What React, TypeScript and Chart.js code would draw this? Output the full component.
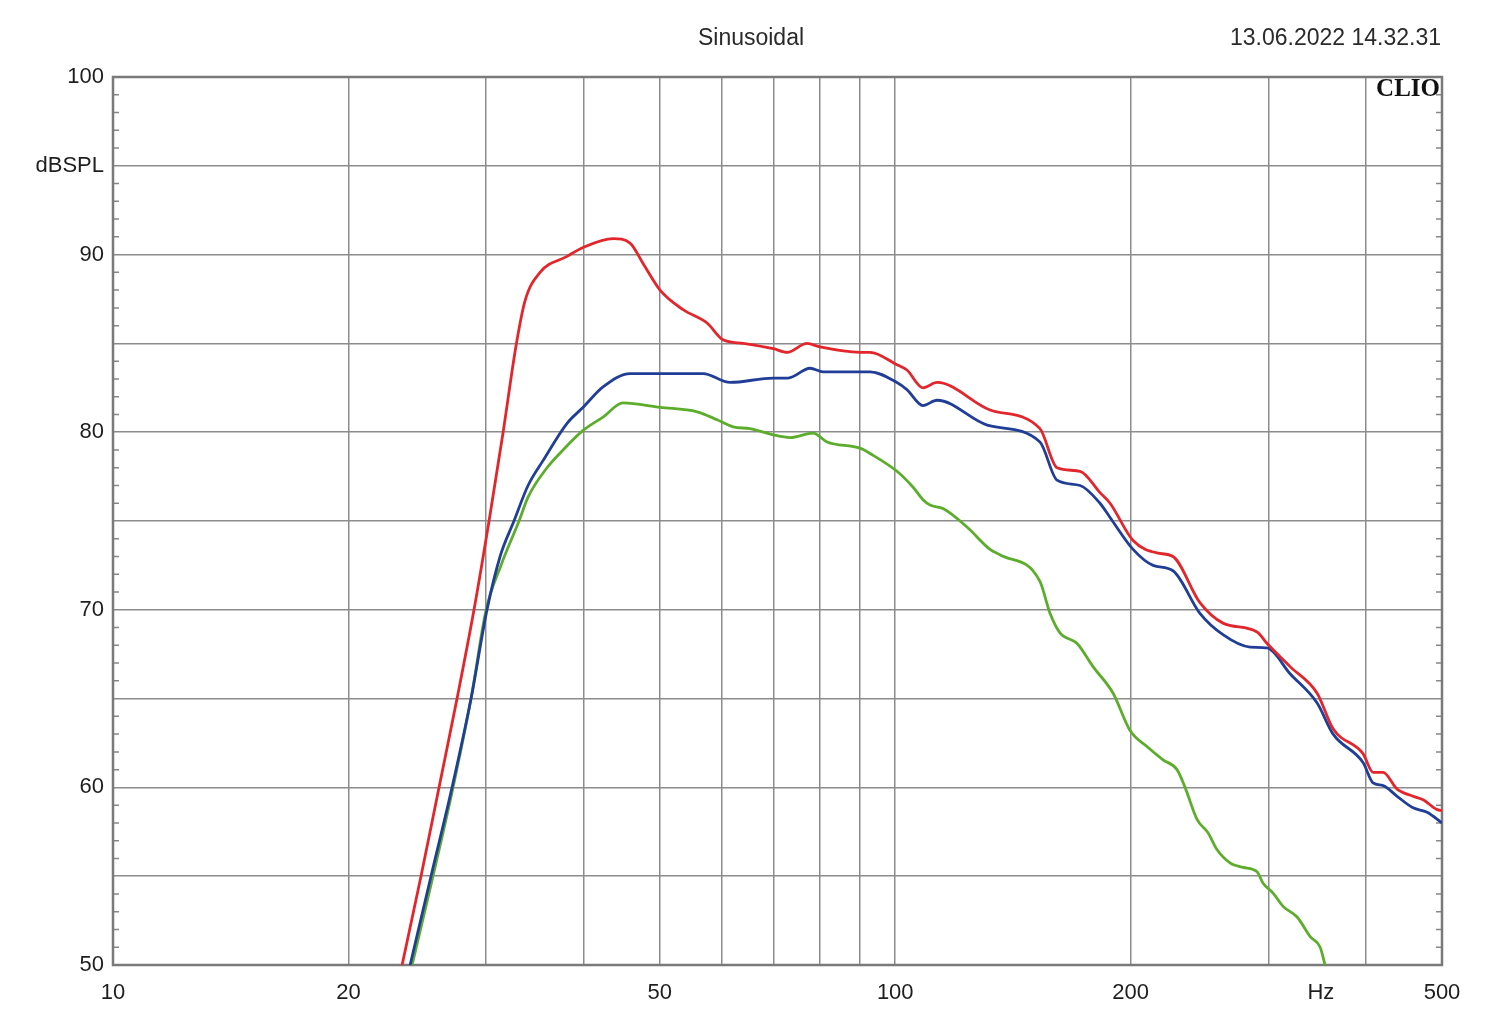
import React, { useEffect, useRef } from "react";
import { Chart, registerables } from "chart.js";

Chart.register(...registerables);

// Frequency (Hz) / level (dB SPL) pairs
const redFreq = [23.42, 24.76, 26.11, 27.53, 28.94, 30.25, 31.53, 32.76, 33.63, 35.15, 38.06, 39.9, 43.58, 45.81, 47.6, 50.04, 53.55, 57.47, 60.25, 63.89, 69.83, 72.77, 77.13, 80.15, 90.16, 92.86, 100.5, 103.5, 108.5, 113.1, 132.2, 153.1, 161.0, 172.3, 182.7, 188.2, 201.4, 216.1, 226.5, 245.2, 262.4, 290.1, 298.8, 319.7, 346.2, 362.9, 396.3, 408.2, 420.4, 438.1, 459.2, 473.0, 492.9, 500];
const redDb = [50, 55, 60, 65, 70, 75, 80, 84.9, 87.4, 89.0, 89.9, 90.4, 90.9, 90.65, 89.5, 88.0, 86.9, 86.15, 85.2, 85.0, 84.7, 84.5, 85.0, 84.8, 84.5, 84.5, 83.8, 83.5, 82.5, 82.8, 81.25, 80.2, 78.0, 77.8, 76.6, 76.0, 73.9, 73.2, 73.0, 70.4, 69.25, 68.75, 68.1, 66.8, 65.3, 63.3, 61.9, 60.85, 60.85, 59.9, 59.5, 59.3, 58.75, 58.7];

const blueFreq = [23.98, 25.5, 27.13, 28.69, 30.07, 31.25, 32.55, 33.93, 35.46, 38.06, 39.9, 42.31, 45.81, 50.04, 56.8, 61.5, 69.83, 72.95, 77.82, 80.86, 92.86, 100.5, 103.5, 108.5, 113.1, 131.1, 153.1, 161.0, 172.3, 182.7, 188.2, 201.4, 213.6, 226.5, 245.2, 262.4, 284.2, 298.8, 319.7, 346.2, 362.9, 396.3, 408.2, 420.4, 438.1, 459.2, 478.6, 500];
const blueDb = [50, 55, 60, 65, 70, 73, 75, 77, 78.4, 80.5, 81.4, 82.55, 83.3, 83.3, 83.3, 82.8, 83.05, 83.05, 83.6, 83.4, 83.4, 82.8, 82.4, 81.5, 81.8, 80.4, 79.45, 77.3, 77.0, 76.0, 75.2, 73.4, 72.5, 72.2, 69.8, 68.6, 67.9, 67.85, 66.4, 64.75, 63.0, 61.4, 60.25, 60.1, 59.5, 58.85, 58.6, 58.0];

const greenFreq = [24.12, 25.65, 27.21, 28.69, 29.99, 31.33, 33.04, 33.93, 35.88, 37.61, 39.9, 42.31, 44.87, 50.04, 55.81, 59.19, 62.04, 65.22, 69.83, 73.38, 78.52, 81.82, 90.16, 92.86, 100.5, 105.4, 108.5, 110.8, 115.1, 123.6, 132.2, 136.1, 153.1, 157.7, 162.4, 170.8, 179.0, 189.9, 199.6, 209.8, 220.0, 229.2, 234.7, 243.1, 251.1, 257.8, 267.9, 278.4, 290.1, 295.3, 304.1, 313.2, 326.4, 339.2, 349.3, 354.4];
const greenDb = [50, 55, 60, 65, 70, 72.5, 75, 76.35, 78.0, 79.0, 80.1, 80.85, 81.65, 81.4, 81.15, 80.7, 80.3, 80.2, 79.85, 79.7, 79.95, 79.45, 79.1, 78.8, 77.8, 76.9, 76.2, 75.9, 75.7, 74.65, 73.4, 73.1, 71.6, 69.8, 68.7, 68.1, 66.8, 65.3, 63.2, 62.3, 61.55, 61.0, 60.0, 58.2, 57.45, 56.5, 55.75, 55.5, 55.25, 54.6, 54.05, 53.3, 52.7, 51.6, 51.0, 50];

const freqTicks = [10, 20, 30, 40, 50, 60, 70, 80, 90, 100, 200, 300, 350, 400, 500];
const freqLabels: Record<number, string> = { 10: "10", 20: "20", 50: "50", 100: "100", 200: "200", 350: "Hz", 500: "500" };
const dbLabels: Record<number, string> = { 100: "100", 95: "dBSPL", 90: "90", 80: "80", 70: "70", 60: "60", 50: "50" };

const titleText = "Sinusoidal";
const dateText = "13.06.2022 14.32.31";
const brandText = "CLIO";

const FONT = "'Liberation Sans', Arial, sans-serif";

function pairs(f: number[], d: number[]) {
  return f.map((x, i) => ({ x, y: d[i] }));
}

const framePlugin = {
  id: "frame",
  beforeDatasetsDraw(chart: any) {
    const { ctx, chartArea: a, scales } = chart;
    const y = scales.y;
    ctx.save();
    ctx.strokeStyle = "#888888";
    ctx.lineWidth = 1.5;
    for (let v = 51; v < 100; v++) {
      if (v % 5 === 0) continue;
      const py = y.getPixelForValue(v);
      ctx.beginPath();
      ctx.moveTo(a.left, py);
      ctx.lineTo(a.left + 6, py);
      ctx.moveTo(a.right, py);
      ctx.lineTo(a.right - 6, py);
      ctx.stroke();
    }
    ctx.strokeStyle = "#7a7a7a";
    ctx.lineWidth = 2.5;
    ctx.strokeRect(a.left, a.top, a.right - a.left, a.bottom - a.top);
    ctx.restore();
  },
  afterDraw(chart: any) {
    const { ctx, chartArea: a } = chart;
    ctx.save();
    ctx.fillStyle = "#2a2a2a";
    ctx.font = `23px ${FONT}`;
    ctx.textBaseline = "middle";
    ctx.textAlign = "center";
    ctx.fillText(titleText, 751, 39);
    ctx.textAlign = "right";
    ctx.fillText(dateText, 1441, 39);
    ctx.fillStyle = "#111111";
    ctx.font = `bold 25px 'Liberation Serif', 'DejaVu Serif', serif`;
    ctx.fillText(brandText, a.right - 2, a.top + 13);
    ctx.restore();
  },
};

export default function App() {
  const ref = useRef<HTMLCanvasElement>(null);
  useEffect(() => {
    if (!ref.current) return;
    const lineStyle = { borderWidth: 2.8, pointRadius: 0, fill: false, cubicInterpolationMode: "monotone" as const };
    const chart = new Chart(ref.current, {
      type: "line",
      data: {
        datasets: [
          { label: "red", data: pairs(redFreq, redDb), borderColor: "#e2262b", ...lineStyle },
          { label: "blue", data: pairs(blueFreq, blueDb), borderColor: "#213e97", ...lineStyle },
          { label: "green", data: pairs(greenFreq, greenDb), borderColor: "#5cad2c", ...lineStyle },
        ],
      },
      options: {
        responsive: false,
        animation: false,
        parsing: false as any,
        layout: { padding: { top: 77, right: 58, left: 0, bottom: 0 } },
        plugins: { legend: { display: false }, tooltip: { enabled: false }, title: { display: false } },
        scales: {
          x: {
            type: "logarithmic",
            min: 10,
            max: 500,
            afterBuildTicks: (scale: any) => {
              scale.ticks = freqTicks.map((v) => ({ value: v }));
            },
            afterFit: (scale: any) => {
              scale.height = 63;
            },
            border: { display: false },
            grid: {
              drawTicks: false,
              lineWidth: 1.5,
              color: (c: any) => (c.tick && c.tick.value === 350 ? "rgba(0,0,0,0)" : "#8c8c8c"),
            },
            ticks: {
              autoSkip: false,
              maxRotation: 0,
              padding: 15,
              color: "#1e1e1e",
              font: { family: FONT, size: 22 },
              callback: (v: any) => freqLabels[Number(v)] ?? "",
            },
          },
          y: {
            type: "linear",
            min: 50,
            max: 100,
            afterFit: (scale: any) => {
              scale.width = 113;
            },
            border: { display: false },
            grid: { drawTicks: false, lineWidth: 1.5, color: "#8c8c8c" },
            ticks: {
              stepSize: 5,
              autoSkip: false,
              padding: 9,
              color: "#1e1e1e",
              font: { family: FONT, size: 22 },
              callback: (v: any) => dbLabels[Number(v)] ?? "",
            },
          },
        },
      },
      plugins: [framePlugin],
    });
    return () => chart.destroy();
  }, []);
  return (
    <div style={{ position: "fixed", left: 0, top: 0, width: 1500, height: 1028, background: "#ffffff" }}>
      <canvas ref={ref} width={1500} height={1028} style={{ display: "block" }} />
    </div>
  );
}
